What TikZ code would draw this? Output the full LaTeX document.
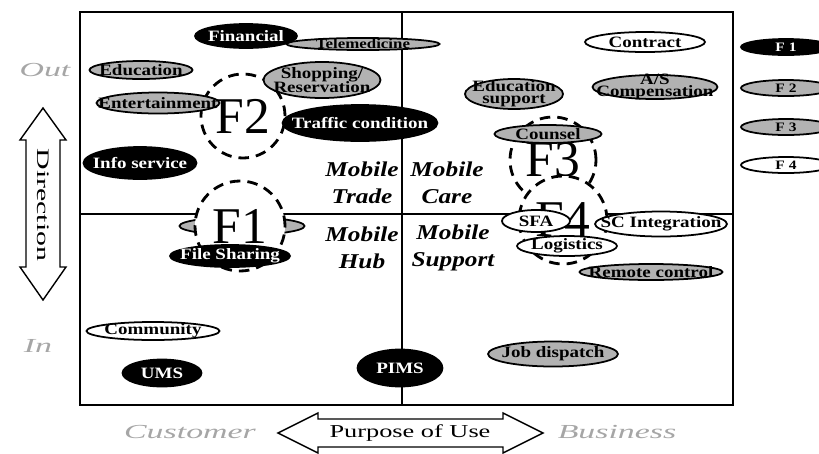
\documentclass[tikz,border=0pt]{standalone}
\usepackage{fontspec}
\setmainfont{Liberation Serif}
\newfontfamily\bubfam{Liberation Serif}[FakeStretch=1.2]
\newfontfamily\widefam{Liberation Serif}[FakeStretch=1.45]
\newfontfamily\xwidefam{Liberation Serif}[FakeStretch=1.7]
\usetikzlibrary{shapes.geometric}

\tikzset{
  bub/.style = {ellipse, draw=black, line width=1.5pt, inner sep=0pt},
  blk/.style = {bub, fill=black},
  gry/.style = {bub, fill=black!30},
  wht/.style = {bub, fill=white},
  wh/.style 2 args = {minimum width=#1*0.3mm, minimum height=#2*0.3mm},
  fring/.style = {circle, draw=black, line width=2.4pt, dash pattern=on 9pt off 6pt, fill=white, inner sep=0pt, minimum size=#1*0.3mm, font=\fontsize{44}{44}\selectfont},
  quad/.style = {font=\bubfam\fontsize{18}{23}\selectfont\bfseries\itshape, align=center},
  faint/.style = {text=black!35, font=\xwidefam\fontsize{17}{17}\selectfont\itshape},
  axis/.style = {draw=black, line width=1.2pt, fill=white},
  every label/.style = {font=\bubfam\fontsize{13.5}{14}\selectfont\bfseries, align=center},
}

\begin{document}
\begin{tikzpicture}[x=0.3mm, y=-0.3mm]
\useasboundingbox (0,0) rectangle (819,453);
\clip (0,0) rectangle (819,453);

% frame and quadrants
\draw[line width=1.6pt] (80,12) rectangle (733,405);
\coordinate (vt) at (402,12);
\coordinate (vb) at (402,405);
\coordinate (hl) at (80,214);
\coordinate (hr) at (733,214);
\draw[line width=1.2pt] (vt) -- (vb);
\draw[line width=1.2pt] (hl) -- (hr);

\node[quad] (trade) at (362,183) {Mobile\\Trade};
\node[quad] (care) at (447,183) {Mobile\\Care};
\node[quad] (hub) at (362,248) {Mobile\\Hub};
\node[quad] (supp) at (453,248) {Mobile\\Support};

% item hidden under F1
\node[gry, wh={125}{18}] (hid) at (242,226) {};

% clusters
\node[fring=90] (f1) at (240,226) {F1};
\node[fring=84] (f2) at (243,116) {F2};
\node[fring=86] (f3) at (553,160) {F3};
\node[gry, wh={107}{18}, label=center:Counsel] (coun) at (548,134) {};
\node[fring=88] (f4) at (563,220) {F4};

% services
\node[gry, wh={153}{12}, label={[font=\bubfam\fontsize{12}{12}\selectfont\bfseries]center:Telemedicine}] (tele) at (363,44) {};
\node[blk, wh={102}{24}, label={[white]center:Financial}] (fin) at (246,36) {};
\node[gry, wh={103}{18}, label=center:Education] (edu) at (141,70) {};
\node[gry, wh={117}{36}, label=center:{Shopping/\\[-2pt]Reservation}] (shop) at (322,80) {};
\node[gry, wh={123}{21}, label=center:Entertainment] (ent) at (158,103) {};
\node[blk, wh={155}{36}, label={[white]center:Traffic condition}] (traf) at (360,123) {};
\node[blk, wh={113}{32}, label={[white]center:Info service}] (info) at (140,163) {};
\node[blk, wh={120}{22}, label={[white]center:File Sharing}] (file) at (230,256) {};
\node[wht, wh={133}{18}, label=center:Community] (comm) at (153,331) {};
\node[blk, wh={79}{27}, label={[white]center:UMS}] (ums) at (162,373) {};
\node[blk, wh={85}{37}, label={[white]center:PIMS}] (pims) at (400,368) {};
\node[wht, wh={120}{20}, label=center:Contract] (cont) at (645,42) {};
\node[gry, wh={98}{30}, label=center:{Education\\[-4pt]support}] (esup) at (514,94) {};
\node[gry, wh={125}{24}, label=center:{A/S\\[-4pt]Compensation}] (asc) at (655,87) {};
\node[wht, wh={68}{22}, label=center:SFA] (sfa) at (536,221) {};
\node[wht, wh={100}{20}, label=center:Logistics] (logi) at (567,246) {};
\node[wht, wh={132}{25}, label=center:SC Integration] (sci) at (661,224) {};
\node[gry, wh={143}{16}, label=center:Remote control] (rem) at (651,272) {};
\node[gry, wh={130}{25}, label=center:Job dispatch] (job) at (553,354) {};

% legend
\node[blk, wh={90}{16}, label={[white, font=\bubfam\fontsize{11}{11}\selectfont\bfseries]center:F 1}] (lg1) at (786,47) {};
\node[gry, wh={90}{16}, label={[font=\bubfam\fontsize{11}{11}\selectfont\bfseries]center:F 2}] (lg2) at (786,88) {};
\node[gry, wh={90}{16}, label={[font=\bubfam\fontsize{11}{11}\selectfont\bfseries]center:F 3}] (lg3) at (786,127) {};
\node[wht, wh={90}{16}, label={[font=\bubfam\fontsize{11}{11}\selectfont\bfseries]center:F 4}] (lg4) at (786,165) {};

% axes
\draw[axis] (43,108) -- (66,140) -- (60,140) -- (60,267) -- (66,267) -- (43,300)
  -- (20,267) -- (26,267) -- (26,140) -- (20,140) -- cycle;
\node[rotate=-90, font=\xwidefam\fontsize{15}{15}\selectfont] (dir) at (43,205) {Direction};
\draw[axis] (278,433) -- (318,413) -- (318,419) -- (503,419) -- (503,413) -- (543,433)
  -- (503,453) -- (503,447) -- (318,447) -- (318,453) -- cycle;
\node[font=\widefam\fontsize{15.5}{15.5}\selectfont] (purp) at (410,433) {Purpose of Use};

\node[faint] (out) at (45,70) {Out};
\node[faint] (in) at (38,346) {In};
\node[faint] (cust) at (190,432) {Customer};
\node[faint] (bus) at (617,432) {Business};
\end{tikzpicture}
\end{document}
